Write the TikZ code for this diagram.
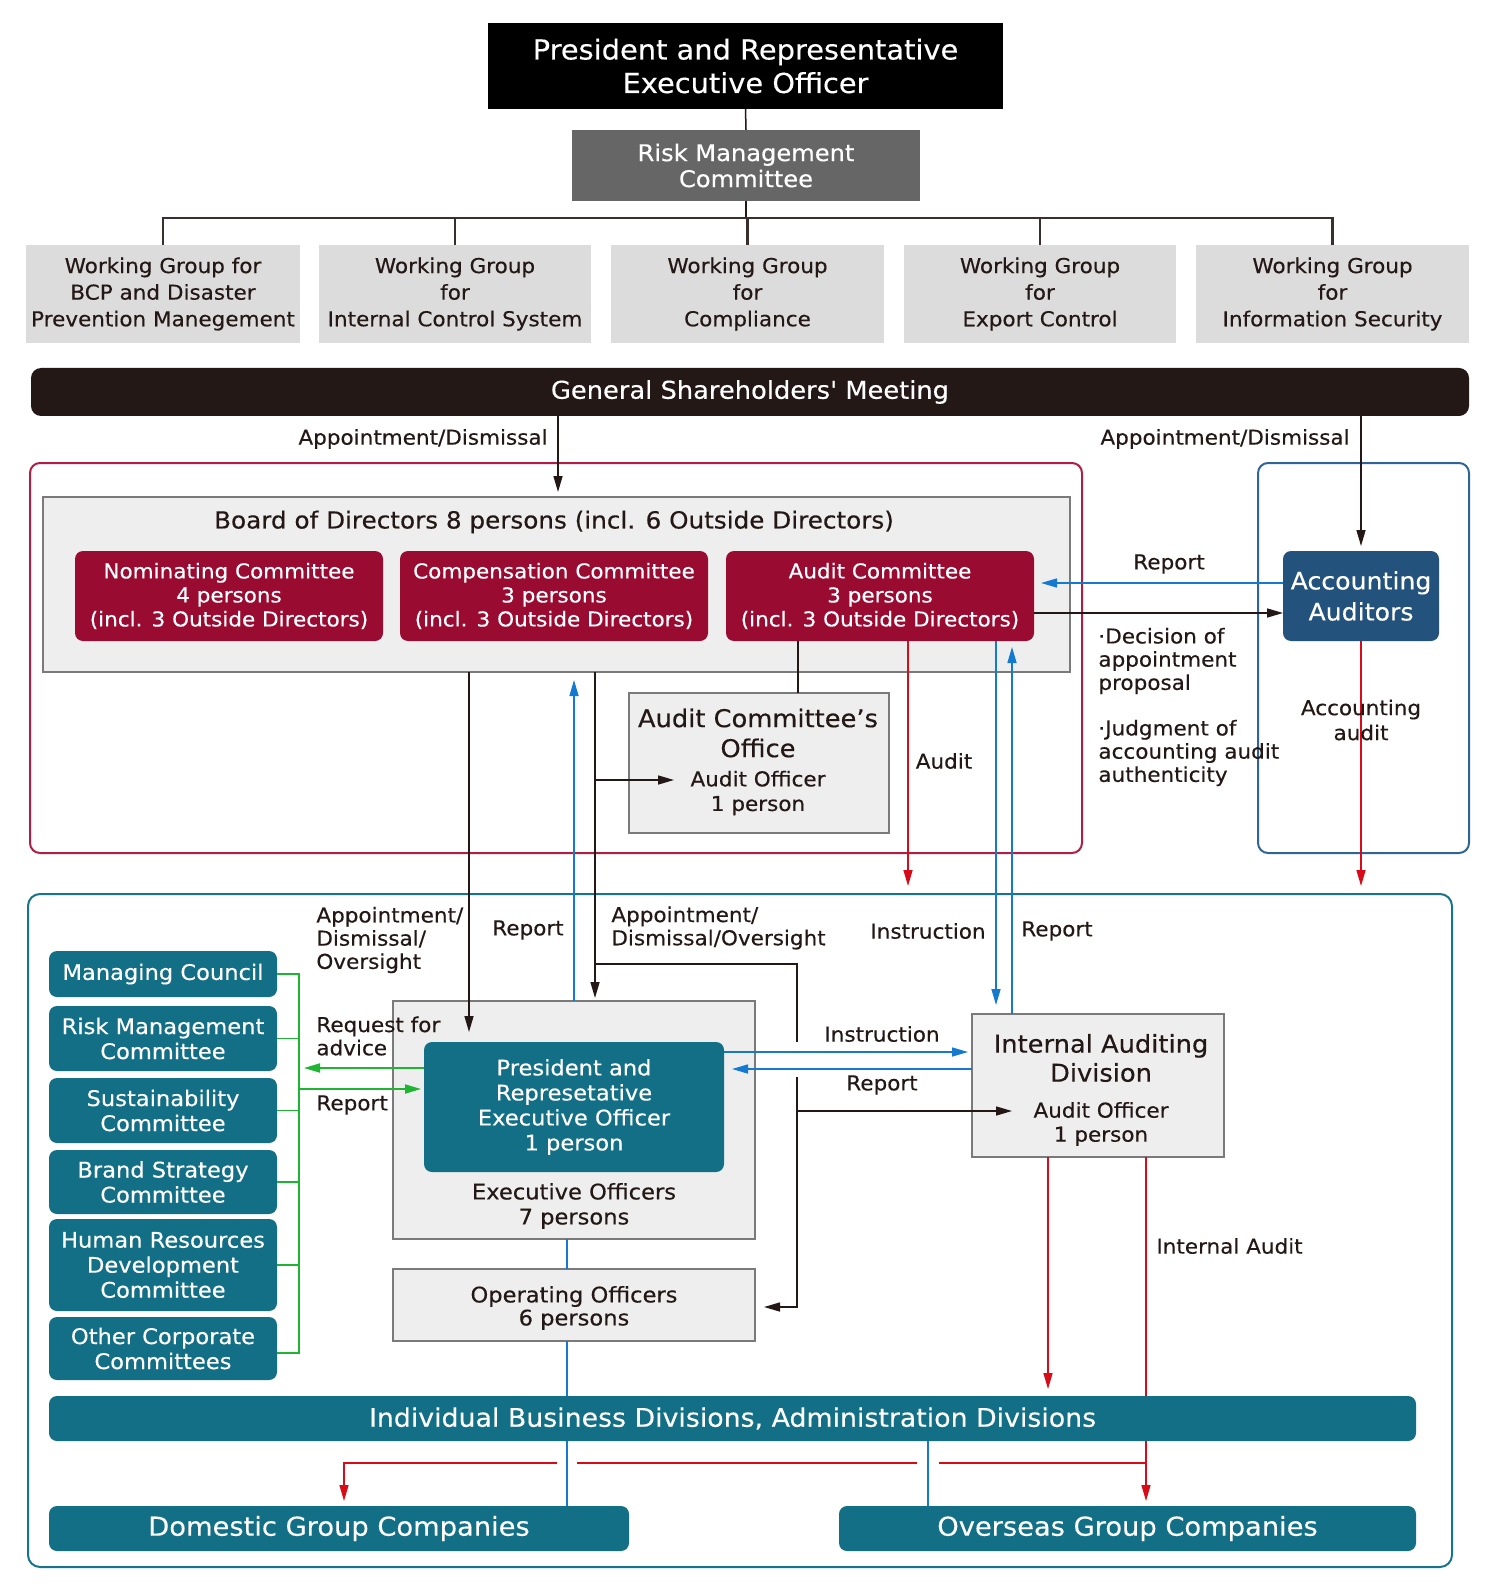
\documentclass[tikz,border=0pt]{standalone}
\usepackage{fontspec}
\setmainfont{DejaVu Sans}[FakeStretch=1.05,FakeBold=0.35]
\newfontfamily\nolig{DejaVu Sans}[Ligatures=TeXOff,FakeStretch=1.05,FakeBold=0.35]
\usetikzlibrary{arrows.meta,calc}
\definecolor{ink}{HTML}{231815}
\definecolor{rmgray}{HTML}{666666}
\definecolor{wggray}{HTML}{DCDCDC}
\definecolor{boxgray}{HTML}{EEEEEE}
\definecolor{edgegray}{HTML}{7A7A7A}
\definecolor{crimson}{HTML}{9A0B32}
\definecolor{frameRed}{HTML}{B01E44}
\definecolor{accblue}{HTML}{23527C}
\definecolor{frameBlue}{HTML}{2F6596}
\definecolor{arrBlue}{HTML}{1479D0}
\definecolor{arrRed}{HTML}{D80C18}
\definecolor{teal}{HTML}{126F86}
\definecolor{frameTeal}{HTML}{17748A}
\definecolor{grn}{HTML}{1DB531}
\newcommand\fs[2]{\fontsize{#1}{#2}\selectfont}
% name, style, x1, y1, x2, y2, text
\newcommand\bx[7]{%
  \pgfmathsetmacro\bw{(#5-#3)*0.5}%
  \pgfmathsetmacro\bh{(#6-#4)*0.5}%
  \node[#2, minimum width=\bw pt, minimum height=\bh pt, inner sep=0pt, outer sep=0pt] (#1) at ({(#3+#5)/2},{(#4+#6)/2}) {#7};}
\begin{document}
\begin{tikzpicture}[x=0.5pt,y=-0.5pt,
  every node/.style={align=center, text=ink},
  blackbox/.style={fill=black, text=white, font=\fs{13.75}{16.75}},
  rmbox/.style={fill=rmgray, text=white, font=\fs{11.5}{13}},
  wgbox/.style={fill=wggray, font=\fs{10.25}{13.3}},
  gsmbox/.style={fill=ink, rounded corners=5pt, text=white, font=\nolig\fs{12.25}{14}},
  graybox/.style={fill=boxgray, draw=edgegray, line width=1pt},
  combox/.style={fill=crimson, rounded corners=4pt, text=white, font=\fs{10.25}{12}},
  accbox/.style={fill=accblue, rounded corners=4pt, text=white, font=\fs{12}{15.5}},
  tealbox/.style={fill=teal, rounded corners=4pt, text=white, font=\fs{10.75}{12.5}},
  bigteal/.style={fill=teal, rounded corners=4pt, text=white, font=\fs{13}{15}},
  lbl/.style={font=\fs{10.25}{11.6}, inner sep=0pt},
  blk/.style={draw=ink, line width=0.75pt},
  blkarr/.style={blk, -{Triangle[length=8pt,width=4.5pt]}},
  bluearr/.style={draw=arrBlue, line width=0.75pt, -{Triangle[length=8pt,width=4.5pt]}},
  blueline/.style={draw=arrBlue, line width=0.75pt},
  redarr/.style={draw=arrRed, line width=0.75pt, -{Triangle[length=8pt,width=4.5pt]}},
  redline/.style={draw=arrRed, line width=0.75pt},
  grnline/.style={draw=grn, line width=0.9pt},
  grnarr/.style={grnline, -{Triangle[length=8pt,width=4.5pt]}},
  busline/.style={draw=ink!90, line width=1.3pt}
]
\useasboundingbox[fill=white] (0,0) rectangle (1500,1593);

% ---------- top risk management tree ----------
\bx{pres}{blackbox}{488}{23}{1003}{109}{President and Representative\\Executive Officer}
\bx{rmc}{rmbox}{572}{130}{920}{201}{Risk Management\\Committee}
\bx{wg1}{wgbox}{26}{245}{300}{343}{Working Group for\\BCP and Disaster\\Prevention Manegement}
\bx{wg2}{wgbox}{319}{245}{591}{343}{Working Group\\for\\Internal Control System}
\bx{wg3}{wgbox}{611}{245}{884}{343}{Working Group\\for\\Compliance}
\bx{wg4}{wgbox}{904}{245}{1176}{343}{Working Group\\for\\Export Control}
\bx{wg5}{wgbox}{1196}{245}{1469}{343}{Working Group\\for\\Information Security}
\coordinate (bus) at (748,218);
\draw[blk] (pres.south) -- (rmc.north);
\draw[blk] (rmc.south) -- (rmc.south |- bus);
\draw[busline] (wg1.north) -- (wg1.north |- bus) -- (wg5.north |- bus) -- (wg5.north);
\foreach \w in {wg2,wg3,wg4}{\draw[busline] (\w.north) -- (\w.north |- bus);}

% ---------- shareholders ----------
\bx{gsm}{gsmbox}{31}{368}{1469}{416}{General Shareholders' Meeting}

% ---------- frames ----------
\draw[frameRed, line width=1pt, rounded corners=5pt] (30,463) rectangle (1082,853);
\draw[frameBlue, line width=1pt, rounded corners=5pt] (1258,463) rectangle (1469,853);
\draw[frameTeal, line width=1pt, rounded corners=6pt] (28,894) rectangle (1452,1567);

% ---------- board ----------
\bx{board}{graybox}{43}{497}{1070}{672}{}
\node[font=\fs{11.75}{14}, inner sep=0pt] (boardt) at (554,522) {Board of Directors 8 persons\,\,(incl. 6 Outside Directors)};
\bx{nom}{combox}{75}{551}{383}{641}{Nominating Committee\\4 persons\\(incl. 3 Outside Directors)}
\bx{comp}{combox}{400}{551}{708}{641}{Compensation Committee\\3 persons\\(incl. 3 Outside Directors)}
\bx{aud}{combox}{726}{551}{1034}{641}{Audit Committee\\3 persons\\(incl. 3 Outside Directors)}
\bx{acc}{accbox}{1283}{551}{1439}{641}{Accounting\\Auditors}
\bx{aco}{graybox}{629}{693}{889}{833}{}
\node[font=\fs{12.25}{15}, inner sep=0pt] (acot) at (758,733) {Audit Committee’s\\Office};
\node[font=\fs{10.25}{12.3}, inner sep=0pt] (acoo) at (758,793) {Audit Officer\\1 person};

% labels upper
\node[lbl, anchor=east] (lapp1) at (548,439) {Appointment/Dismissal};
\node[lbl, anchor=east] (lapp2) at (1350,439) {Appointment/Dismissal};
\node[lbl] (lrep1) at (1169,564) {Report};
\node[lbl, anchor=west, align=left] (lb1) at (1098,661) {·Decision of\\appointment\\proposal};
\node[lbl, anchor=west, align=left] (lb2) at (1098,753) {·Judgment of\\accounting audit\\authenticity};
\node[lbl] (laudit) at (944,761) {Audit};

% ---------- execution side ----------
\bx{mc}{tealbox}{49}{951}{277}{997}{Managing Council}
\bx{rm2}{tealbox}{49}{1006}{277}{1071}{Risk Management\\Committee}
\bx{sus}{tealbox}{49}{1078}{277}{1143}{Sustainability\\Committee}
\bx{brand}{tealbox}{49}{1150}{277}{1214}{Brand Strategy\\Committee}
\bx{hr}{tealbox}{49}{1219}{277}{1311}{Human Resources\\Development\\Committee}
\bx{oth}{tealbox}{49}{1317}{277}{1380}{Other Corporate\\Committees}
\bx{exec}{graybox}{393}{1001}{755}{1239}{}
\bx{ceo}{tealbox}{424}{1042}{724}{1172}{\fs{10.75}{13.3}President and\\Represetative\\Executive Officer\\1 person}
\node[font=\fs{10.75}{12.5}, inner sep=0pt] (exect) at (574,1206) {Executive Officers\\7 persons};
\bx{ops}{graybox}{393}{1269}{755}{1341}{}
\node[font=\fs{10.75}{11.5}, inner sep=0pt] (opst) at (574,1308) {Operating Officers\\6 persons};
\bx{iad}{graybox}{972}{1014}{1224}{1157}{}
\node[font=\fs{12.25}{14.5}, inner sep=0pt] (iadt) at (1101,1058) {Internal Auditing\\Division};
\node[font=\fs{10.25}{12}, inner sep=0pt] (iado) at (1101,1124) {Audit Officer\\1 person};
\bx{dom}{bigteal}{49}{1506}{629}{1551}{Domestic Group Companies}
\bx{ovs}{bigteal}{839}{1506}{1416}{1551}{Overseas Group Companies}

% labels lower
\node[lbl, anchor=west, align=left] (lapp3) at (316,940) {Appointment/\\Dismissal/\\Oversight};
\node[lbl] (lrep2) at (528,930) {Report};
\node[lbl, anchor=west, align=left] (lapp4) at (611,928) {Appointment/\\Dismissal/Oversight};
\node[lbl] (linst1) at (928,931) {Instruction};
\node[lbl] (lrep3) at (1057,931) {Report};
\node[lbl, anchor=west, align=left] (lreq) at (316,1036) {Request for\\advice};
\node[lbl, anchor=west] (lrep4) at (316,1105) {Report};
\node[lbl] (linst2) at (882,1034) {Instruction};
\node[lbl] (lrep5) at (882,1085) {Report};
\node[lbl, anchor=west] (lia) at (1156,1246) {Internal Audit};

% ---------- coordinates for connector lanes ----------
\coordinate (xA) at (558,0);
\coordinate (xB) at (469,0);
\coordinate (xC) at (574,0);
\coordinate (xD) at (595,0);
\coordinate (xE) at (798,0);
\coordinate (xF) at (908,0);
\coordinate (xG) at (996,0);
\coordinate (xH) at (1012,0);
\coordinate (xI) at (567,0);
\coordinate (xJ) at (928,0);
\coordinate (xK) at (1048,0);
\coordinate (xL) at (1146,0);
\coordinate (xM) at (344,0);
\coordinate (xN) at (299,0);
\coordinate (yRep) at (0,583);
\coordinate (yDec) at (0,613);
\coordinate (yOff) at (0,780);
\coordinate (yOv) at (0,964);
\coordinate (yIns) at (0,1052);
\coordinate (yRp2) at (0,1069);
\coordinate (yReq) at (0,1068);
\coordinate (yGR) at (0,1089);
\coordinate (yIA) at (0,1111);
\coordinate (yOp) at (0,1307);
\coordinate (yRed) at (0,1463);
\coordinate (yEnd) at (0,886);
\coordinate (auditEnd) at (908,886);
\coordinate (jOv) at (797,964);
\coordinate (gap1) at (797,1042);
\coordinate (gap2) at (797,1077);

% ---------- connectors ----------
\draw[blkarr, shorten >=2.5pt] (gsm.south -| xA) -- (board.north -| xA);
\draw[blkarr, shorten >=2.5pt] (gsm.south -| acc) -- (acc.north);
\draw[bluearr, shorten >=3.5pt] (acc.west |- yRep) -- (aud.east |- yRep);
\draw[blkarr] (aud.east |- yDec) -- (acc.west |- yDec);
\draw[blk] (aud.south -| xE) -- (aco.north -| xE);
\draw[redarr] (aud.south -| xF) -- (auditEnd);
\draw[redarr] (acc.south) -- (acc.south |- yEnd);
\node[lbl, font=\fs{10.25}{12.5}] (lacc) at (1361,720) {Accounting\\audit};
\draw[bluearr, shorten >=4.5pt] (aud.south -| xG) -- (iad.north -| xG);
\draw[bluearr, shorten >=3pt] (iad.north -| xH) -- (aud.south -| xH);
\draw[blkarr, shorten >=5pt] (board.south -| xB) -- (ceo.north -| xB);
\draw[bluearr, shorten >=4pt] (exec.north -| xC) -- (board.south -| xC);
\draw[blkarr, shorten >=1.5pt] (board.south -| xD) -- (exec.north -| xD);
\draw[blkarr] (xD |- yOff) -- (674,780);
\draw[blk] (xD |- yOv) -- (jOv) -- (gap1);
\draw[blkarr, shorten >=4.5pt] (gap2) -- (797,1307) -- (ops.east |- yOp);
\draw[blkarr] (797,1111) -- (1012,1111);
\draw[bluearr, shorten >=2pt] (ceo.east |- yIns) -- (iad.west |- yIns);
\draw[bluearr, shorten >=4pt] (iad.west |- yRp2) -- (ceo.east |- yRp2);
% green
\draw[grnline] (mc.east) -- (xN |- mc.east) -- (299,1353) -- (oth.east |- 0,1353);
\foreach \b in {rm2,sus,brand,hr}{\draw[grnline] (\b.east) -- (xN |- \b.east);}
\draw[grnarr, shorten >=2.5pt] (ceo.west |- yReq) -- (xN |- yReq);
\draw[grnarr, shorten >=1.5pt] (xN |- yGR) -- (ceo.west |- yGR);
% blue vertical lines downwards
\draw[blueline] (exec.south -| xI) -- (ops.north -| xI);
\draw[blueline] (ops.south -| xI) -- (1416,1396 -| xI);
\draw[blueline] (1416,1441 -| xI) -- (dom.north -| xI);
\draw[blueline] (1416,1441 -| xJ) -- (ovs.north -| xJ);
% red internal audit
\draw[redarr, shorten >=3.5pt] (iad.south -| xK) -- (1416,1396 -| xK);
\draw[redarr, shorten >=2.5pt] (iad.south -| xL) -- (ovs.north -| xL);
\draw[redline] (xL |- yRed) -- (939,1463);
\draw[redline] (917,1463) -- (577,1463);
\draw[redarr, shorten >=2.5pt] (557,1463) -- (xM |- yRed) -- (dom.north -| xM);
% business divisions on top of the red line
\bx{ibd}{bigteal}{49}{1396}{1416}{1441}{\fs{12.75}{15}Individual Business Divisions, Administration Divisions}
\end{tikzpicture}
\end{document}
